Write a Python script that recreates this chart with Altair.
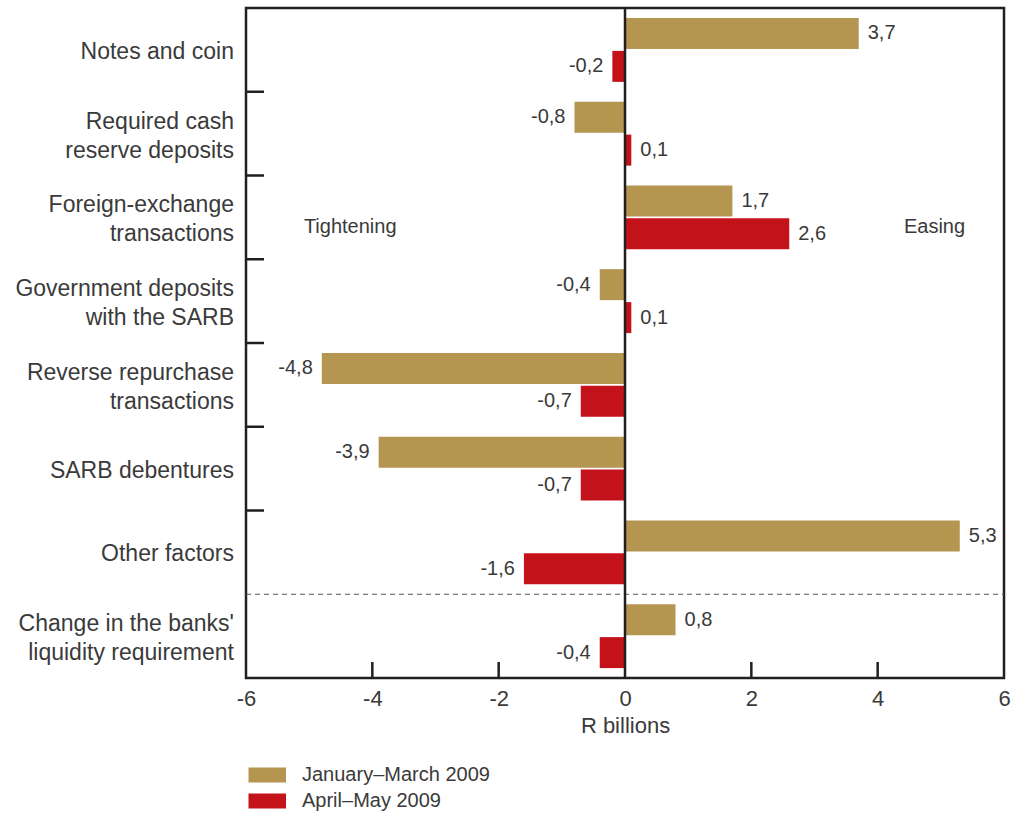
import altair as alt
import pandas as pd

# Categories (top to bottom); "|" marks a line break in the label
categories = [
    "Notes and coin",
    "Required cash|reserve deposits",
    "Foreign-exchange|transactions",
    "Government deposits|with the SARB",
    "Reverse repurchase|transactions",
    "SARB debentures",
    "Other factors",
    "Change in the banks'|liquidity requirement",
]
series_names = ["January–March 2009", "April–May 2009"]
jan_mar = [3.7, -0.8, 1.7, -0.4, -4.8, -3.9, 5.3, 0.8]
apr_may = [-0.2, 0.1, 2.6, 0.1, -0.7, -0.7, -1.6, -0.4]
x_ticks = [-6, -4, -2, 0, 2, 4, 6]
inner_ticks = [-4, -2, 2, 4]
colors = ["#B59651", "#C4121A"]

rows = []
for cat, a, b in zip(categories, jan_mar, apr_may):
    rows.append({"cat": cat, "series": series_names[0], "v": a})
    rows.append({"cat": cat, "series": series_names[1], "v": b})
df = pd.DataFrame(rows)

W, H = 758, 670
FONT = "Liberation Sans"
TXT = "#3a3a3a"
INK = "#231f20"
FS = 22

y_enc = alt.Y(
    "cat:N",
    sort=categories,
    scale=alt.Scale(domain=categories, paddingInner=0, paddingOuter=0),
    axis=None,
)
yoff = alt.YOffset(
    "series:N",
    sort=series_names,
    scale=alt.Scale(domain=series_names, paddingInner=0.06, paddingOuter=0.3),
)
x_scale = alt.Scale(domain=[-6, 6], nice=False, zero=False)
x_enc = alt.X(
    "v:Q",
    scale=x_scale,
    axis=alt.Axis(
        title="R billions",
        values=x_ticks,
        labelExpr="toString(datum.value)",
        labelFlush=False,
        ticks=False,
        domain=False,
        grid=False,
        labelFontSize=FS,
        labelColor=TXT,
        labelFont=FONT,
        labelPadding=10,
        titleFontSize=FS,
        titleFontWeight="normal",
        titleColor=TXT,
        titleFont=FONT,
        titlePadding=6,
    ),
)

base = alt.Chart(df)

bars = base.mark_bar().encode(
    x=x_enc,
    x2=alt.datum(0),
    y=y_enc,
    yOffset=yoff,
    color=alt.Color(
        "series:N",
        sort=series_names,
        scale=alt.Scale(domain=series_names, range=colors),
        legend=alt.Legend(
            title=None,
            orient="none",
            legendX=0,
            legendY=757,
            symbolType="M-1,-1L4,-1L4,1L-1,1Z",
            symbolSize=225,
            symbolStrokeWidth=0,
            symbolOpacity=1,
            labelFontSize=FS - 2,
            labelColor=TXT,
            labelFont=FONT,
            labelOffset=36,
            labelLimit=400,
            rowPadding=6,
        ),
    ),
)

# value labels with a decimal comma
label_calc = "replace(toString(datum.v), '.', ',')"
pos_labels = base.transform_filter("datum.v >= 0").transform_calculate(
    lab=label_calc
).mark_text(align="left", baseline="middle", dx=9, fontSize=FS - 2, color=TXT, font=FONT).encode(
    x=alt.X("v:Q", scale=x_scale), y=alt.Y("cat:N", sort=categories), yOffset=yoff, text="lab:N"
)
neg_labels = base.transform_filter("datum.v < 0").transform_calculate(
    lab=label_calc
).mark_text(align="right", baseline="middle", dx=-9, fontSize=FS - 2, color=TXT, font=FONT).encode(
    x=alt.X("v:Q", scale=x_scale), y=alt.Y("cat:N", sort=categories), yOffset=yoff, text="lab:N"
)

# category names to the left of the frame
cat_df = pd.DataFrame({"cat": categories})
cat_single = alt.Chart(cat_df).transform_filter("indexof(datum.cat, '|') < 0").mark_text(
    align="right", baseline="middle", fontSize=FS + 1, color=TXT, font=FONT, dy=2,
).encode(y=alt.Y("cat:N", sort=categories), x=alt.value(-12), text="cat:N")
cat_double = alt.Chart(cat_df).transform_filter("indexof(datum.cat, '|') >= 0").mark_text(
    align="right", baseline="middle", fontSize=FS + 1, color=TXT, font=FONT,
    lineBreak="|", lineHeight=29, dy=-12,
).encode(y=alt.Y("cat:N", sort=categories), x=alt.value(-12), text="cat:N")

# zero line
zero = alt.Chart(pd.DataFrame({"z": [0]})).mark_rule(color=INK, strokeWidth=2.5).encode(
    x=alt.X("z:Q", scale=x_scale)
)

# inward tick marks on the x axis
xt = alt.Chart(pd.DataFrame({"t": inner_ticks})).mark_rule(color=INK, strokeWidth=2.5).encode(
    x=alt.X("t:Q", scale=x_scale), y=alt.value(H - 16), y2=alt.value(H)
)

# category separators on the left edge
sep = alt.Chart(pd.DataFrame({"cat": categories[1:7]})).mark_rule(
    color=INK, strokeWidth=2.5
).encode(
    y=alt.Y("cat:N", sort=categories, bandPosition=0),
    x=alt.value(0),
    x2=alt.value(18),
)

# dashed divider above the last category
dash = alt.Chart(pd.DataFrame({"cat": [categories[7]]})).mark_rule(
    color="#555555", strokeWidth=1, strokeDash=[5, 4]
).encode(
    y=alt.Y("cat:N", sort=categories, bandPosition=0),
    x=alt.value(0),
    x2=alt.value(W),
)

notes = alt.Chart(
    pd.DataFrame(
        {"x": [-4.35, 4.9], "cat": [categories[2]] * 2, "t": ["Tightening", "Easing"]}
    )
).mark_text(align="center", baseline="middle", dy=10, fontSize=FS - 2, color=TXT, font=FONT).encode(
    x=alt.X("x:Q", scale=x_scale), y=alt.Y("cat:N", sort=categories), text="t:N"
)

chart = (
    alt.layer(bars, dash, zero, xt, sep, pos_labels, neg_labels, notes, cat_single, cat_double)
    .properties(
        width=W,
        height=H,
        background="white",
        autosize=alt.AutoSizeParams(type="none"),
        padding={"left": 246, "top": 8, "right": 16, "bottom": 136},
    )
    .configure_view(stroke=INK, strokeWidth=2.5)
)

chart.save("out.html", embed_options={"renderer": "svg", "actions": False})
